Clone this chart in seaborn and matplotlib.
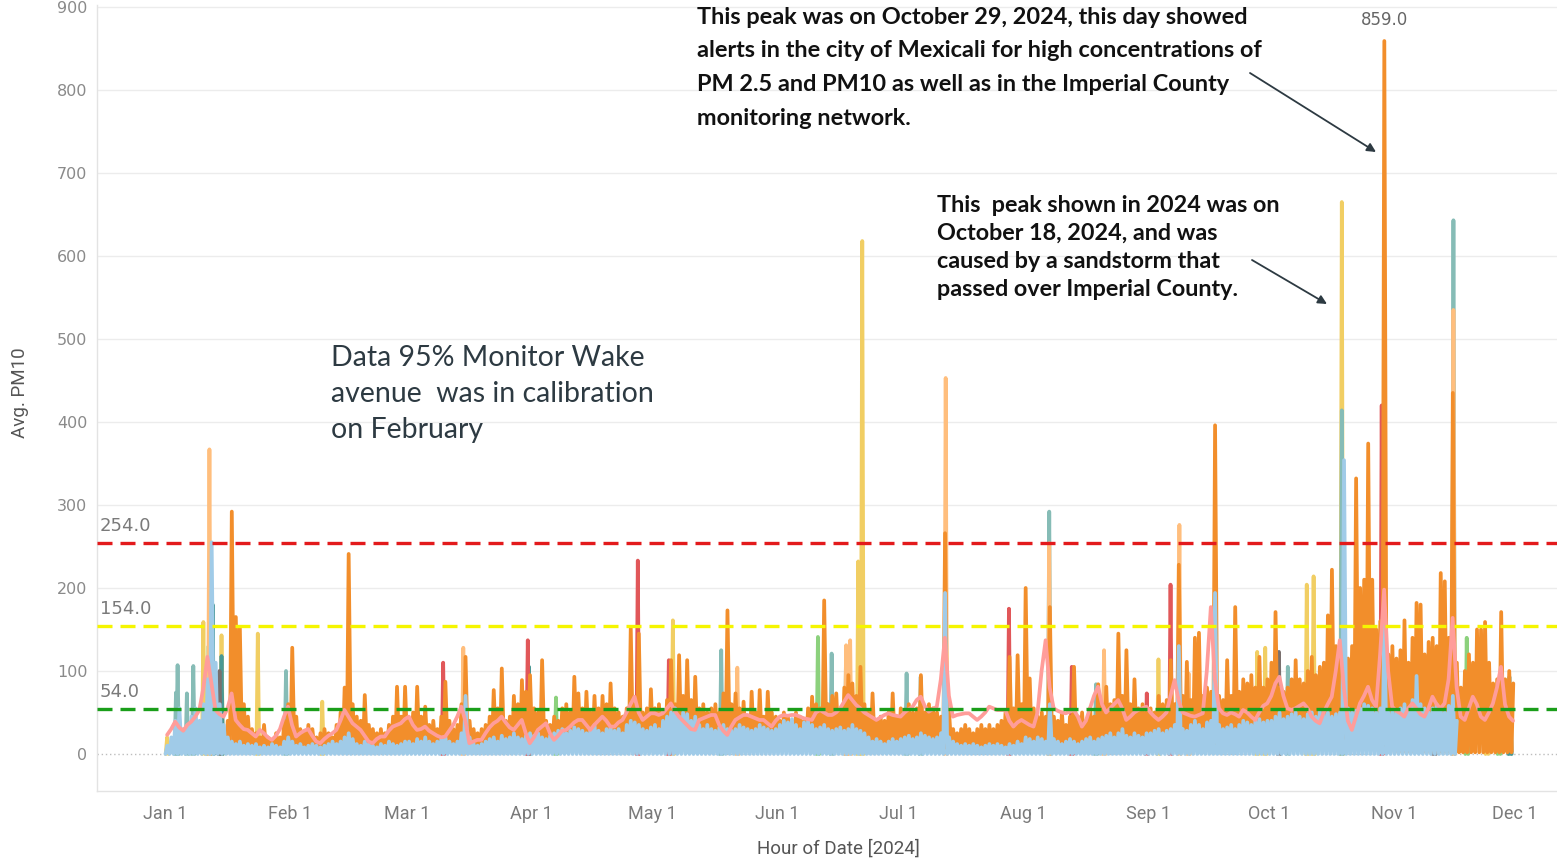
import numpy as np
import pandas as pd
import matplotlib
matplotlib.use("Agg")
import matplotlib.pyplot as plt
import seaborn as sns

nan = np.nan

# ---------------- data ----------------
month_labels = ["Jan 1", "Feb 1", "Mar 1", "Apr 1", "May 1", "Jun 1",
                "Jul 1", "Aug 1", "Sep 1", "Oct 1", "Nov 1", "Dec 1"]
month_start_days = [0, 31, 60, 91, 121, 152, 182, 213, 244, 274, 305, 335]

# main monitor (orange): daily peak of hourly PM10, Jan 1 .. Nov 30
orange_jan = [nan] * 15 + [40, 292, 165, 152, 60, 45, 30, 25, 20, 35, 20, 15, 25, 20, 40, 60]
orange_feb = [128, 45, 30, 25, 35, 30, 20, 25, 30, 25, 20, 35, 50, 80, 241, 60, 45, 40, 71, 35,
              30, 25, 30, 25, 35, 45, 81, 45, 81]
orange_mar = [40, 50, 81, 45, 57, 35, 40, 30, 45, 87, 40, 30, 35, 60, 117, 40, 30, 25, 30, 35,
              45, 77, 55, 103, 40, 45, 70, 60, 89, 75, 95]
orange_apr = [55, 50, 113, 40, 35, 45, 40, 55, 60, 50, 93, 73, 55, 75, 50, 70, 55, 70, 60, 85,
              55, 50, 45, 55, 152, 60, 145, 50, 55, 78]
orange_may = [55, 60, 50, 65, 113, 60, 119, 70, 113, 65, 93, 55, 60, 50, 55, 60, 50, 73, 173, 60,
              73, 55, 63, 45, 75, 50, 77, 45, 75, 50, 45]
orange_jun = [40, 50, 45, 40, 50, 45, 40, 55, 69, 60, 55, 185, 60, 70, 73, 55, 80, 95, 85, 70,
              105, 60, 50, 73, 40, 45, 40, 50, 73, 45]
orange_jul = [55, 50, 60, 50, 55, 95, 50, 60, 55, 50, 45, 266, 50, 30, 25, 30, 35, 30, 25, 30,
              35, 30, 35, 30, 35, 40, 50, 117, 55, 119, 60]
orange_aug = [200, 91, 55, 45, 50, 45, 177, 45, 40, 50, 35, 45, 105, 45, 50, 40, 55, 45, 84, 60,
              81, 60, 65, 145, 70, 125, 60, 90, 55, 60, 50]
orange_sep = [55, 50, 70, 60, 65, 113, 60, 228, 70, 111, 65, 140, 146, 70, 80, 75, 396, 70, 65, 113,
              70, 177, 75, 90, 85, 95, 80, 117, 80, 90]
orange_oct = [110, 171, 80, 75, 80, 90, 113, 90, 85, 100, 117, 95, 105, 110, 167, 222, 130, 120, 80, 115,
              130, 332, 200, 210, 374, 210, 150, 160, 859, 120, 130]
orange_nov = [115, 125, 161, 110, 140, 182, 180, 120, 135, 140, 130, 218, 208, 140, 435, 110, 80, 100, 120, 110,
              150, 150, 159, 110, 85, 90, 171, 90, 100, 85]
orange_floor_by_month = [3, 3, 5, 8, 8, 8, 6, 6, 8, 10, 2]

# light-blue monitor: daily peak, Jan 1 .. Nov 16
blue_jan = [10, 20, 40, 55, 30, 35, 45, 55, 40, 60, 90, 255, 110, 60, 35, 20, 15, 12, 15, 10,
            12, 10, 12, 8, 10, 8, 12, 10, 8, 15, 20]
blue_feb = [15, 10, 12, 8, 10, 12, 10, 8, 10, 12, 15, 12, 15, 20, 25, 18, 12, 10, 15, 12,
            10, 8, 12, 10, 15, 12, 10, 12, 15]
blue_mar = [15, 12, 18, 15, 20, 15, 12, 15, 18, 20, 15, 12, 15, 25, 70, 20, 12, 10, 12, 15,
            18, 20, 15, 22, 18, 20, 25, 20, 18, 22, 25]
blue_apr = [22, 25, 20, 18, 22, 25, 28, 30, 25, 28, 32, 30, 28, 25, 30, 35, 28, 25, 30, 32,
            28, 30, 25, 35, 40, 38, 35, 30, 28, 32]
blue_may = [35, 30, 40, 45, 50, 55, 45, 50, 48, 40, 45, 35, 30, 35, 30, 28, 32, 35, 30, 28,
            30, 35, 32, 30, 28, 30, 35, 32, 30, 28, 30]
blue_jun = [35, 40, 38, 42, 35, 30, 38, 40, 35, 30, 32, 35, 30, 28, 30, 32, 28, 30, 35, 30,
            28, 25, 20, 15, 18, 15, 12, 15, 18, 15]
blue_jul = [18, 20, 22, 18, 20, 25, 22, 20, 18, 20, 25, 194, 20, 15, 12, 10, 12, 10, 12, 10,
            8, 10, 12, 10, 12, 10, 8, 12, 10, 15, 12]
blue_aug = [20, 18, 15, 20, 18, 15, 60, 18, 15, 12, 15, 18, 15, 12, 15, 18, 20, 15, 18, 20,
            22, 25, 20, 25, 30, 22, 20, 25, 22, 20, 25]
blue_sep = [25, 28, 30, 25, 28, 30, 35, 130, 30, 28, 35, 40, 35, 30, 38, 40, 194, 35, 30, 32,
            35, 30, 35, 40, 38, 35, 40, 42, 38, 40]
blue_oct = [40, 45, 50, 42, 45, 48, 50, 45, 42, 48, 50, 45, 52, 48, 50, 45, 48, 50, 354, 55,
            50, 52, 55, 60, 58, 55, 50, 55, 161, 50, 52]
blue_nov = [50, 55, 60, 55, 65, 94, 60, 55, 50, 55, 60, 55, 50, 58, 70, 40]

# pink monitor: daily average
pink_jan = [23, 30, 39, 32, 28, 35, 39, 45, 53, 80, 117, 85, 53, 48, 45, 55, 73, 41, 35, 30,
            29, 25, 21, 29, 25, 20, 17, 22, 30, 45, 57]
pink_feb = [35, 21, 25, 28, 30, 22, 15, 13, 18, 22, 25, 29, 40, 53, 45, 37, 33, 29, 22, 15,
            13, 18, 21, 21, 28, 33, 35, 37, 42]
pink_mar = [45, 35, 29, 30, 33, 28, 25, 22, 20, 21, 28, 35, 45, 57, 40, 13, 15, 17, 17, 25,
            32, 37, 40, 45, 38, 32, 29, 35, 41, 25, 13]
pink_apr = [20, 29, 33, 37, 25, 17, 22, 28, 29, 33, 38, 41, 41, 35, 29, 35, 40, 45, 40, 33,
            33, 38, 41, 50, 60, 69, 50, 41, 45, 49]
pink_may = [49, 47, 49, 55, 61, 52, 45, 40, 35, 30, 29, 41, 43, 45, 47, 47, 35, 28, 23, 33,
            41, 44, 47, 47, 45, 43, 41, 41, 37, 33, 40]
pink_jun = [45, 47, 46, 47, 47, 45, 43, 42, 41, 50, 53, 50, 47, 47, 50, 55, 63, 71, 65, 59,
            55, 50, 47, 44, 41, 44, 47, 49, 47, 46]
pink_jul = [45, 50, 54, 57, 65, 69, 58, 51, 54, 57, 90, 140, 70, 45, 47, 48, 49, 49, 45, 41,
            45, 50, 57, 55, 53, 53, 53, 40, 33, 38, 41]
pink_aug = [38, 35, 33, 50, 100, 137, 80, 55, 52, 50, 49, 51, 53, 45, 33, 40, 55, 70, 81, 60,
            50, 55, 60, 65, 55, 41, 45, 50, 53, 55, 57]
pink_sep = [50, 45, 41, 45, 50, 70, 89, 65, 50, 48, 46, 45, 47, 49, 100, 177, 90, 55, 49, 47,
            50, 48, 45, 53, 50, 45, 41, 50, 58, 61]
pink_oct = [70, 85, 93, 70, 55, 53, 55, 58, 61, 55, 45, 40, 37, 50, 60, 69, 100, 137, 80, 40,
            29, 45, 61, 70, 81, 65, 57, 120, 198, 100, 57]
pink_nov = [52, 49, 45, 55, 61, 55, 48, 45, 55, 69, 60, 55, 61, 90, 164, 80, 45, 41, 55, 69,
            60, 45, 41, 50, 61, 80, 105, 60, 45, 40]

# other monitors: only their peak days rise above the main monitors
yellow_days = [0.5, 9.5, 14, 23, 39, 126, 172, 173, 246.5, 271, 273, 283.3, 285, 292, 328]
yellow_vals = [20, 159, 143, 145, 63, 161, 232, 618, 114, 123, 128, 204, 214, 665, 90]
teal_days = [2.7, 3.1, 5.4, 7, 30, 138, 165.4, 169, 184, 187.5, 219.4, 231, 278.6, 292, 319.7, 333.6]
teal_vals = [74, 107, 73, 106, 100, 125, 121, 128, 97, 93, 292, 84, 105, 414, 643, 93]
darkteal_days = [11.8, 14, 90.3, 333.8]
darkteal_vals = [180, 118, 105, 80]
green_days = [10.8, 97, 162, 323, 331]
green_vals = [130, 68, 141, 140, 60]
grey_days = [13.5, 276.4, 315]
grey_vals = [100, 123, 60]
red_days = [69, 90, 117.3, 125, 209.4, 225, 243.6, 249.5, 301.9]
red_vals = [110, 137, 233, 113, 175, 105, 73, 204, 420]
peach_days = [11, 74, 142, 169, 170, 193.7, 219.4, 233, 251.7, 254, 319.7]
peach_vals = [367, 128, 104, 131, 137, 453, 254, 125, 276, 97, 535]

thresholds = [254.0, 154.0, 54.0]
peak_value = 859.0
peak_day = 302.55

# ---------------- helpers ----------------
orange = (orange_jan + orange_feb + orange_mar + orange_apr + orange_may + orange_jun +
          orange_jul + orange_aug + orange_sep + orange_oct + orange_nov)
blue = (blue_jan + blue_feb + blue_mar + blue_apr + blue_may + blue_jun +
        blue_jul + blue_aug + blue_sep + blue_oct + blue_nov)
pink = (pink_jan + pink_feb + pink_mar + pink_apr + pink_may + pink_jun +
        pink_jul + pink_aug + pink_sep + pink_oct + pink_nov)


def month_of(day):
    return int(np.searchsorted(month_start_days, day, side="right") - 1)


def zigzag(peaks, floors):
    xs, ys = [], []
    for d, p in enumerate(peaks):
        if not np.isfinite(p):
            continue
        xs += [d + 0.1, d + 0.55]
        ys += [floors[month_of(d)], p]
    return pd.DataFrame({"day": xs, "pm10": ys})


def spikes(days, vals):
    rows = []
    for k, (d, v) in enumerate(zip(days, vals)):
        rows += [(d - 0.35, 0.0, k), (d, v, k), (d + 0.35, 0.0, k)]
    return pd.DataFrame(rows, columns=["day", "pm10", "spike"])


# ---------------- figure ----------------
sns.set_style("white")
W, H = 1557, 860
fig = plt.figure(figsize=(W / 100, H / 100), dpi=100)
ax = fig.add_axes([97 / W, 1 - 791 / H, (W - 97) / W, (791 - 5) / H])

yticks = list(range(0, 1000, 100))
for yv in yticks[1:]:
    ax.axhline(yv, color="#ececec", lw=1, zorder=0)
ax.axhline(0, color="#bdbdbd", lw=1, ls=(0, (1, 2)), zorder=0)

LW = 2.7
sparse = [("#f1ce63", yellow_days, yellow_vals),
          ("#86bcb6", teal_days, teal_vals),
          ("#499894", darkteal_days, darkteal_vals),
          ("#8cd17d", green_days, green_vals),
          ("#79706e", grey_days, grey_vals),
          ("#e15759", red_days, red_vals),
          ("#ffbe7d", peach_days, peach_vals)]
for col, dd, vv in sparse:
    sns.lineplot(data=spikes(dd, vv), x="day", y="pm10", units="spike", estimator=None,
                 sort=False, color=col, linewidth=LW, ax=ax, legend=False)

sns.lineplot(data=zigzag(orange, orange_floor_by_month), x="day", y="pm10", estimator=None,
             sort=False, color="#f28e2b", linewidth=LW, ax=ax, legend=False)
sns.lineplot(data=zigzag(blue, [0] * 11), x="day", y="pm10", estimator=None,
             sort=False, color="#a0cbe8", linewidth=LW, ax=ax, legend=False)
pink_df = pd.DataFrame({"day": np.arange(len(pink)) + 0.5, "pm10": pink})
sns.lineplot(data=pink_df, x="day", y="pm10", estimator=None, sort=False,
             color="#ff9d9a", linewidth=2.7, ax=ax, legend=False)

# reference lines
for thr, col in zip(thresholds, ["#e31a1c", "#f5f500", "#1a9e1a"]):
    ax.axhline(thr, color=col, lw=2.4, dashes=(4.5, 2.4), zorder=5)
    ax.text(-16.2, thr + 21, f"{thr:.1f}", color="#7a7a7a", fontsize=13,
            ha="left", va="center", zorder=6)

ax.text(peak_day, peak_value + 25, f"{peak_value:.1f}", color="#666666", fontsize=12,
        ha="center", va="center")

ax.set_xlim(-16.9, 345.4)
ax.set_ylim(-44.6, 902.4)
ax.set_xticks(month_start_days)
ax.set_xticklabels(month_labels, fontsize=13, color="#7a7a7a",
                   family=["Liberation Sans Narrow", "Roboto", "DejaVu Sans"])
ax.set_yticks(yticks)
ax.set_yticklabels([str(v) for v in yticks], fontsize=11.5, color="#8a8a8a")
ax.tick_params(axis="x", length=4, color="#e0e0e0", pad=6)
ax.tick_params(axis="y", length=0, pad=7)
ax.set_xlabel("")
ax.set_ylabel("")
for s in ["top", "right"]:
    ax.spines[s].set_visible(False)
for s in ["left", "bottom"]:
    ax.spines[s].set_color("#e3e3e3")
    ax.spines[s].set_linewidth(1)

fig.text(838 / W, 1 - 849 / H, "Hour of Date [2024]", fontsize=13.5, color="#555555",
         ha="center", va="center", family=["Liberation Sans Narrow", "Roboto", "DejaVu Sans"])
fig.text(20 / W, 1 - 393 / H, "Avg. PM10", fontsize=13.5, color="#555555", rotation=90,
         ha="center", va="center", family=["Liberation Sans Narrow", "Roboto", "DejaVu Sans"])

# annotations
note1 = ["This peak was on October 29, 2024, this day showed",
         "alerts in the city of Mexicali for high concentrations of",
         "PM 2.5 and PM10 as well as in the Imperial County",
         "monitoring network."]
for i, line in enumerate(note1):
    fig.text(697 / W, 1 - (17 + 33.7 * i) / H, line, fontsize=16.9, fontweight="bold",
             family=["Lato", "DejaVu Sans"], color="#111111", ha="left", va="center")

note2 = ["This  peak shown in 2024 was on",
         "October 18, 2024, and was",
         "caused by a sandstorm that",
         "passed over Imperial County."]
for i, line in enumerate(note2):
    fig.text(937 / W, 1 - (205 + 28 * i) / H, line, fontsize=16.8, fontweight="bold",
             family=["Lato", "DejaVu Sans"], color="#111111", ha="left", va="center")

note3 = ["Data 95% Monitor Wake",
         "avenue  was in calibration",
         "on February"]
for i, line in enumerate(note3):
    fig.text(331 / W, 1 - (358 + 36 * i) / H, line, fontsize=20.5,
             family=["Lato", "DejaVu Sans"], color="#2d3a42", ha="left", va="center")

arrow_kw = dict(arrowstyle="-|>", color="#2d3a42", lw=1.3, mutation_scale=13,
                shrinkA=0, shrinkB=0)
ax.annotate("", xy=(1376 / W, 1 - 152 / H), xytext=(1250 / W, 1 - 73 / H),
            xycoords="figure fraction", textcoords="figure fraction", arrowprops=arrow_kw)
ax.annotate("", xy=(1327 / W, 1 - 304 / H), xytext=(1252 / W, 1 - 260 / H),
            xycoords="figure fraction", textcoords="figure fraction", arrowprops=arrow_kw)

fig.savefig("out.png", dpi=100, facecolor="white")
